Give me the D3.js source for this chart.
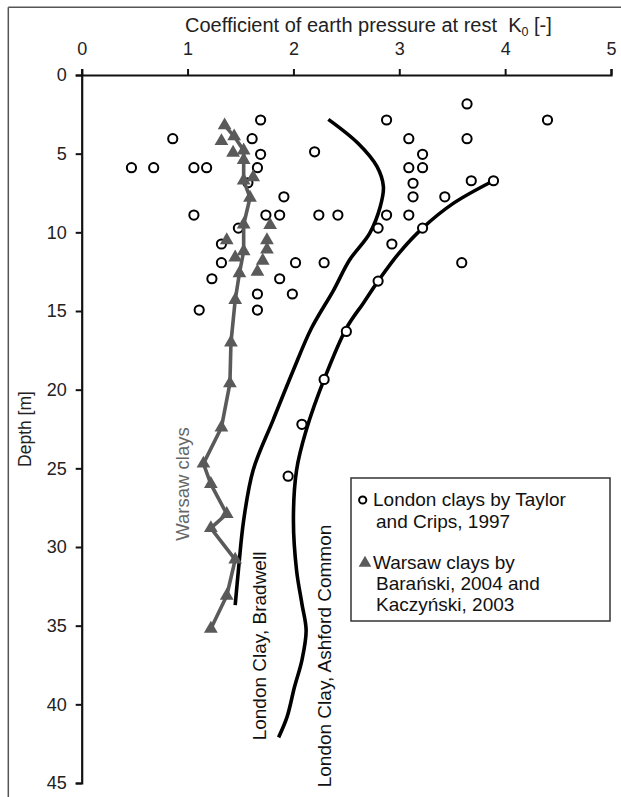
<!DOCTYPE html>
<html>
<head>
<meta charset="utf-8">
<script src="https://cdn.jsdelivr.net/npm/d3@7"></script>
<style>
    body { margin: 0; background: #fff; }
    svg { display: block; font-family: "Liberation Sans", Arial, sans-serif; }
</style>
</head>
<body>
<svg id="chart" width="621" height="797"></svg>
<script>
// London clays by Taylor and Crips, 1997 (K0, depth m)
var londonK = [1.69, 0.86, 1.61, 1.69, 0.47, 0.68, 1.06, 1.18, 1.66, 1.57, 1.91, 1.06, 1.74, 1.87,
    1.48, 1.32, 1.32, 2.02, 1.23, 1.87, 1.66, 1.99, 1.11, 1.66,
    3.64, 2.88, 4.40, 3.09, 3.64, 2.20, 3.22, 3.09, 3.22, 3.13, 3.68, 3.89, 3.13, 3.43,
    2.24, 2.42, 2.88, 3.09, 2.80, 3.22, 2.93, 2.29, 3.59, 2.80, 2.50, 2.29, 2.08, 1.95];
var londonD = [2.86, 4.05, 4.05, 5.04, 5.89, 5.89, 5.89, 5.89, 5.89, 6.85, 7.74, 8.9, 8.9, 8.9,
    9.73, 10.74, 11.93, 11.93, 12.95, 12.95, 13.92, 13.92, 14.94, 14.94,
    1.84, 2.86, 2.86, 4.05, 4.05, 4.88, 5.04, 5.89, 5.89, 6.88, 6.72, 6.72, 7.74, 7.74,
    8.9, 8.9, 8.9, 8.9, 9.73, 9.73, 10.74, 11.93, 11.93, 13.1, 16.3, 19.35, 22.2, 25.5];

// Warsaw clays by Barański, 2004 and Kaczyński, 2003 (connected profile)
var warsawK = [1.35, 1.44, 1.53, 1.53, 1.53, 1.59, 1.53, 1.53, 1.49, 1.45, 1.41, 1.40, 1.32,
    1.15, 1.22, 1.37, 1.22, 1.45, 1.37, 1.22];
var warsawD = [3.2, 3.9, 4.8, 5.4, 6.7, 7.8, 9.5, 11.2, 12.6, 14.3, 17.0, 19.6, 22.4,
    24.7, 26.0, 27.9, 28.8, 30.8, 33.1, 35.2];
// Warsaw clays, scattered points off the profile
var warsawExtraK = [1.32, 1.43, 1.62, 1.78, 1.75, 1.75, 1.71, 1.66, 1.37, 1.45];
var warsawExtraD = [4.2, 4.94, 6.5, 9.54, 10.5, 11.1, 11.8, 12.5, 10.5, 11.6];

// London Clay, Bradwell
var bradwellK = [2.33, 2.61, 2.79, 2.85, 2.82, 2.72, 2.53, 2.38, 2.17, 2.0, 1.81, 1.62, 1.53, 1.48, 1.45];
var bradwellD = [2.82, 4.34, 5.83, 7.1, 8.37, 10.06, 11.76, 13.67, 16.1, 18.75, 21.9, 25.1, 28.3, 31.5, 33.7];

// London Clay, Ashford Common
var ashfordK = [3.89, 3.51, 3.22, 3.0, 2.80, 2.66, 2.50, 2.29, 2.12, 2.03, 2.0, 2.03, 2.08, 2.12, 2.08, 2.01, 1.94, 1.86];
var ashfordD = [6.72, 8.16, 9.73, 11.3, 13.1, 14.5, 16.1, 19.35, 22.6, 25.1, 28.3, 31.5, 33.6, 35.3, 37.2, 38.9, 40.8, 42.1];

var xTicks = [0, 1, 2, 3, 4, 5];
var yTicks = [0, 5, 10, 15, 20, 25, 30, 35, 40, 45];
var legendLines = [
    ["London clays by Taylor", "and Crips, 1997"],
    ["Warsaw clays by", "Barański, 2004 and", "Kaczyński, 2003"]
];

var svg = d3.select("#chart");
var x = d3.scaleLinear().domain([0, 5]).range([81.7, 611]);
var y = d3.scaleLinear().domain([0, 45]).range([75, 783]);
var grey = "#5a5a5a";

function zip(a, b) { return a.map(function(v, i) { return [v, b[i]]; }); }

// frame
svg.append("line").attr("x1", 8.3).attr("y1", 7.3).attr("x2", 8.3).attr("y2", 797)
    .attr("stroke", "#555").attr("stroke-width", 1.5);
svg.append("line").attr("x1", 8.3).attr("y1", 7.3).attr("x2", 621).attr("y2", 7.3)
    .attr("stroke", "#555").attr("stroke-width", 1.5);

// axes
var xAxis = svg.append("g").attr("transform", "translate(0,75)")
    .call(d3.axisTop(x).tickValues(xTicks).tickSize(6).tickPadding(14).tickFormat(d3.format("d")));
var yAxis = svg.append("g").attr("transform", "translate(81.7,0)")
    .call(d3.axisLeft(y).tickValues(yTicks).tickSize(6).tickPadding(9).tickFormat(d3.format("d")));
[xAxis, yAxis].forEach(function(g) {
    g.select(".domain").attr("stroke", "#111").attr("stroke-width", 2.2);
    g.selectAll(".tick line").attr("stroke", "#111").attr("stroke-width", 2);
    g.selectAll(".tick text").attr("fill", "#222").style("font-size", "18px")
        .style("font-family", "Liberation Sans, Arial, sans-serif");
});
xAxis.selectAll(".tick text").attr("dy", "0em");

var title = svg.append("text").attr("x", 185).attr("y", 32).attr("fill", "#222")
    .style("font-size", "20px").attr("xml:space", "preserve");
title.append("tspan").text("Coefficient of earth pressure at rest  K");
title.append("tspan").attr("dy", 4).style("font-size", "12.5px").text("0");
title.append("tspan").attr("dy", -4).text(" [-]");

svg.append("text").attr("transform", "translate(31,429) rotate(-90)")
    .attr("text-anchor", "middle").attr("fill", "#222").style("font-size", "17.5px").text("Depth [m]");

// curves
var line = d3.line().x(function(d) { return x(d[0]); }).y(function(d) { return y(d[1]); })
    .curve(d3.curveCatmullRom.alpha(0.5));
svg.append("path").datum(zip(bradwellK, bradwellD)).attr("d", line)
    .attr("fill", "none").attr("stroke", "#000").attr("stroke-width", 3.6);
svg.append("path").datum(zip(ashfordK, ashfordD)).attr("d", line)
    .attr("fill", "none").attr("stroke", "#000").attr("stroke-width", 3.6);

// London clay points
svg.append("g").selectAll("circle").data(zip(londonK, londonD)).join("circle")
    .attr("cx", function(d) { return x(d[0]); }).attr("cy", function(d) { return y(d[1]); })
    .attr("r", 4.6).attr("fill", "#fff").attr("stroke", "#000").attr("stroke-width", 2);

// Warsaw profile
var straight = d3.line().x(function(d) { return x(d[0]); }).y(function(d) { return y(d[1]); });
svg.append("path").datum(zip(warsawK, warsawD)).attr("d", straight)
    .attr("fill", "none").attr("stroke", grey).attr("stroke-width", 3.6).attr("stroke-linejoin", "round");
var tri = d3.symbol().type(d3.symbolTriangle).size(82);
svg.append("g").selectAll("path").data(zip(warsawK, warsawD).concat(zip(warsawExtraK, warsawExtraD))).join("path")
    .attr("d", tri)
    .attr("transform", function(d) { return "translate(" + x(d[0]) + "," + y(d[1]) + ")"; })
    .attr("fill", grey);

// curve labels
svg.append("text").attr("transform", "translate(188.5,484) rotate(-90)").attr("text-anchor", "middle")
    .attr("fill", "#666").style("font-size", "18.5px").text("Warsaw clays");
svg.append("text").attr("transform", "translate(266,646) rotate(-90)").attr("text-anchor", "middle")
    .attr("fill", "#111").style("font-size", "19px").text("London Clay, Bradwell");
svg.append("text").attr("transform", "translate(331,656) rotate(-90)").attr("text-anchor", "middle")
    .attr("fill", "#111").style("font-size", "19px").text("London Clay, Ashford Common");

// legend
var leg = svg.append("g");
leg.append("rect").attr("x", 351).attr("y", 478).attr("width", 259).attr("height", 143)
    .attr("fill", "#fff").attr("stroke", "#333").attr("stroke-width", 1.5);
leg.append("circle").attr("cx", 362.7).attr("cy", 500).attr("r", 3.6)
    .attr("fill", "#fff").attr("stroke", "#000").attr("stroke-width", 2);
leg.append("path").attr("d", d3.symbol().type(d3.symbolTriangle).size(70)).attr("transform", "translate(365,563)").attr("fill", grey);
var baselines = [[506, 528], [568.5, 590, 611]];
legendLines.forEach(function(lines, i) {
    lines.forEach(function(t, j) {
        leg.append("text").attr("x", j === 0 ? 373 : 376).attr("y", baselines[i][j])
            .attr("fill", "#111").style("font-size", "19px").text(t);
    });
});
</script>
</body>
</html>
